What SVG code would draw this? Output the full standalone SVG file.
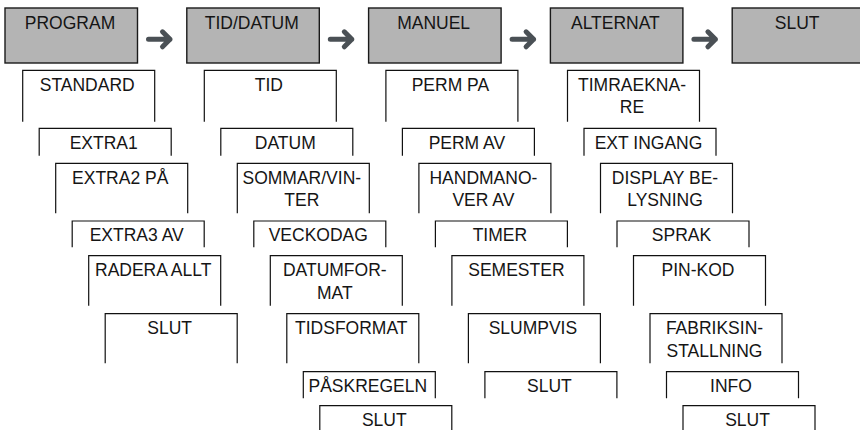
<svg xmlns="http://www.w3.org/2000/svg" width="860" height="430" viewBox="0 0 860 430">
<style>
.top{fill:#b4b4b4;stroke:#1a1a1a;stroke-width:1.4}
.sub{fill:none;stroke:#111;stroke-width:1.2}
.t{font-family:"Liberation Sans",Arial,Helvetica,sans-serif;font-size:17.5px;fill:#151515;text-anchor:middle}
.arr{fill:none;stroke:#4a5055;stroke-width:5;stroke-linecap:round;stroke-linejoin:round}
</style>
<rect width="860" height="430" fill="#fff"/>
<g id="connectors">
<path class="arr" d="M148.5,39.3H170M162.5,31.8L170,39.3L162.5,46.8"/>
<path class="arr" d="M330.3,39.3H351.8M344.3,31.8L351.8,39.3L344.3,46.8"/>
<path class="arr" d="M512.1,39.3H533.6M526.1,31.8L533.6,39.3L526.1,46.8"/>
<path class="arr" d="M693.9,39.3H715.4M707.9,31.8L715.4,39.3L707.9,46.8"/>
</g>
<g id="n-program"><rect class="top" x="5" y="8" width="132.5" height="55"/><text class="t" x="70" y="28.7">PROGRAM</text></g>
<g id="n-tiddatum"><rect class="top" x="186.8" y="8" width="132.5" height="55"/><text class="t" x="251.8" y="28.7">TID/DATUM</text></g>
<g id="n-manuel"><rect class="top" x="368.6" y="8" width="132.5" height="55"/><text class="t" x="433.6" y="28.7">MANUEL</text></g>
<g id="n-alternat"><rect class="top" x="550.4" y="8" width="132.5" height="55"/><text class="t" x="615.4" y="28.7">ALTERNAT</text></g>
<g id="n-slut-top"><rect class="top" x="732.2" y="8" width="132.5" height="55"/><text class="t" x="797.2" y="28.7">SLUT</text></g>

<g id="n-standard"><path class="sub" d="M22.7,121.7V70.3H154.7V121.7"/><text class="t" x="87.2" y="90.7">STANDARD</text></g>
<g id="n-extra1"><path class="sub" d="M39.2,155.7V128.3H171.2V155.7"/><text class="t" x="103.7" y="148.7">EXTRA1</text></g>
<g id="n-extra2"><path class="sub" d="M55.7,213.3V163.3H187.7V213.3"/><text class="t" x="120.2" y="183.7">EXTRA2 PÅ</text></g>
<g id="n-extra3"><path class="sub" d="M72.2,247.3V221H204.2V247.3"/><text class="t" x="136.7" y="241.4">EXTRA3 AV</text></g>
<g id="n-radera"><path class="sub" d="M88.7,305.7V255.7H220.7V305.7"/><text class="t" x="153.2" y="276.1">RADERA ALLT</text></g>
<g id="n-slut1"><path class="sub" d="M105.2,363.3V313.7H237.2V363.3"/><text class="t" x="169.7" y="334.1">SLUT</text></g>

<g id="n-tid"><path class="sub" d="M204.3,121.7V70.3H336.3V121.7"/><text class="t" x="268.8" y="90.7">TID</text></g>
<g id="n-datum"><path class="sub" d="M220.8,155.7V128.3H352.8V155.7"/><text class="t" x="285.3" y="148.7">DATUM</text></g>
<g id="n-sommar"><path class="sub" d="M237.3,213.3V163.3H369.3V213.3"/><text class="t" x="301.8" y="183.7">SOMMAR/VIN-</text><text class="t" x="301.8" y="206.2">TER</text></g>
<g id="n-veckodag"><path class="sub" d="M253.8,247.3V221H385.8V247.3"/><text class="t" x="318.3" y="241.4">VECKODAG</text></g>
<g id="n-datumformat"><path class="sub" d="M270.3,305.7V255.7H402.3V305.7"/><text class="t" x="334.8" y="276.1">DATUMFOR-</text><text class="t" x="334.8" y="298.6">MAT</text></g>
<g id="n-tidsformat"><path class="sub" d="M286.8,363.3V313.7H418.8V363.3"/><text class="t" x="351.3" y="334.1">TIDSFORMAT</text></g>
<g id="n-paskregeln"><path class="sub" d="M303.3,398.3V371.7H435.3V398.3"/><text class="t" x="367.8" y="392.1">PÅSKREGELN</text></g>
<g id="n-slut2"><path class="sub" d="M319.8,432V405.7H451.8V432"/><text class="t" x="384.3" y="426.1">SLUT</text></g>

<g id="n-permpa"><path class="sub" d="M385.9,121.7V70.3H517.9V121.7"/><text class="t" x="450.4" y="90.7">PERM PA</text></g>
<g id="n-permav"><path class="sub" d="M402.4,155.7V128.3H534.4V155.7"/><text class="t" x="466.9" y="148.7">PERM AV</text></g>
<g id="n-handmanover"><path class="sub" d="M418.9,213.3V163.3H550.9V213.3"/><text class="t" x="483.4" y="183.7">HANDMANO-</text><text class="t" x="483.4" y="206.2">VER AV</text></g>
<g id="n-timer"><path class="sub" d="M435.4,247.3V221H567.4V247.3"/><text class="t" x="499.9" y="241.4">TIMER</text></g>
<g id="n-semester"><path class="sub" d="M451.9,305.7V255.7H583.9V305.7"/><text class="t" x="516.4" y="276.1">SEMESTER</text></g>
<g id="n-slumpvis"><path class="sub" d="M468.4,363.3V313.7H600.4V363.3"/><text class="t" x="532.9" y="334.1">SLUMPVIS</text></g>
<g id="n-slut3"><path class="sub" d="M484.9,398.3V371.7H616.9V398.3"/><text class="t" x="549.4" y="392.1">SLUT</text></g>

<g id="n-timraeknare"><path class="sub" d="M567.5,121.7V70.3H699.5V121.7"/><text class="t" x="632" y="90.7">TIMRAEKNA-</text><text class="t" x="632" y="113.2">RE</text></g>
<g id="n-extingang"><path class="sub" d="M584,155.7V128.3H716V155.7"/><text class="t" x="648.5" y="148.7">EXT INGANG</text></g>
<g id="n-display"><path class="sub" d="M600.5,213.3V163.3H732.5V213.3"/><text class="t" x="665" y="183.7">DISPLAY BE-</text><text class="t" x="665" y="206.2">LYSNING</text></g>
<g id="n-sprak"><path class="sub" d="M617,247.3V221H749V247.3"/><text class="t" x="681.5" y="241.4">SPRAK</text></g>
<g id="n-pinkod"><path class="sub" d="M633.5,305.7V255.7H765.5V305.7"/><text class="t" x="698" y="276.1">PIN-KOD</text></g>
<g id="n-fabrik"><path class="sub" d="M650,363.3V313.7H782V363.3"/><text class="t" x="714.5" y="334.1">FABRIKSIN-</text><text class="t" x="714.5" y="356.6">STALLNING</text></g>
<g id="n-info"><path class="sub" d="M666.5,398.3V371.7H798.5V398.3"/><text class="t" x="731" y="392.1">INFO</text></g>
<g id="n-slut4"><path class="sub" d="M683,432V405.7H815V432"/><text class="t" x="747.5" y="426.1">SLUT</text></g>
</svg>
